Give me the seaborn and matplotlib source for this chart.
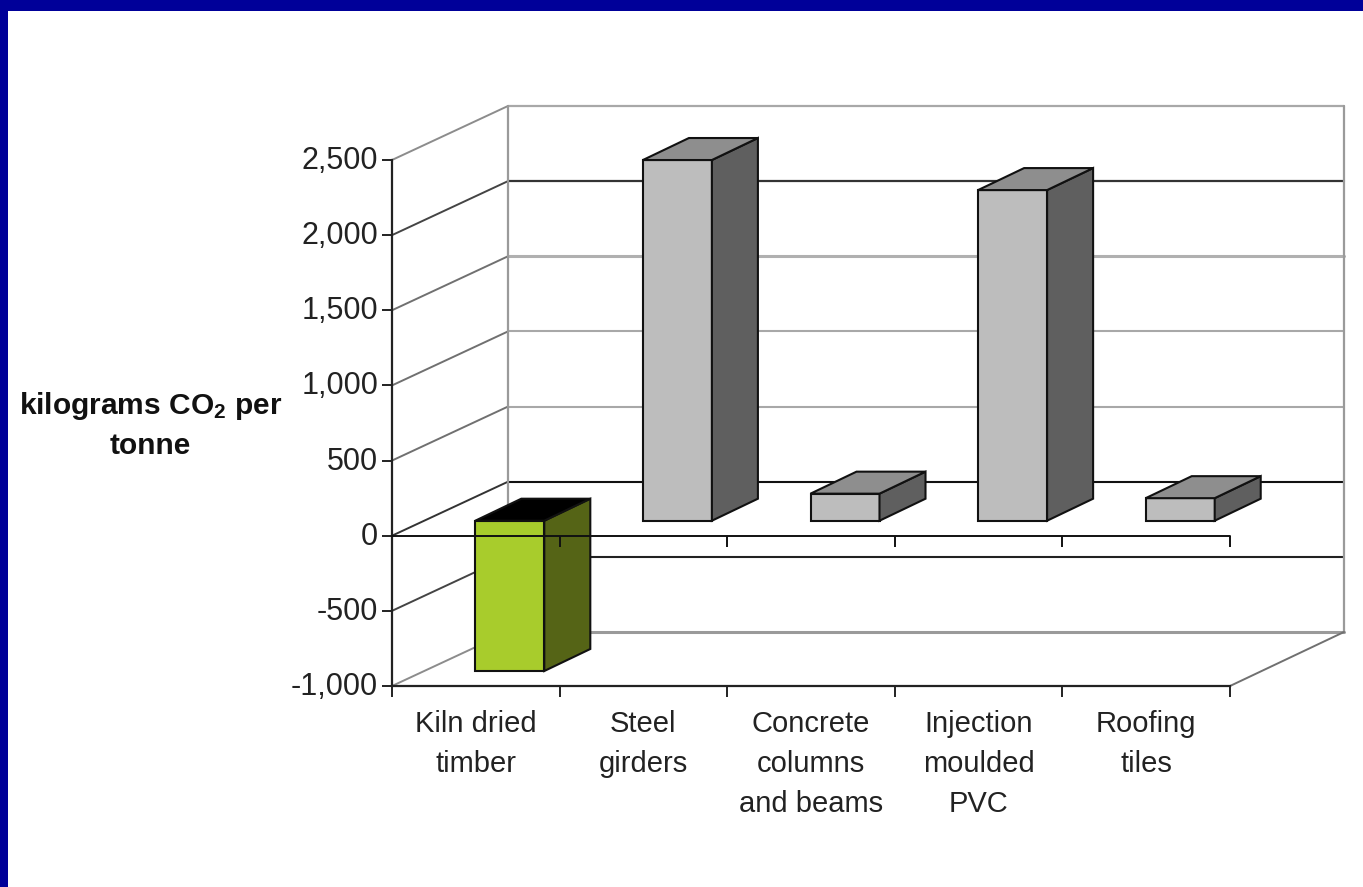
import numpy as np
import pandas as pd
import matplotlib
matplotlib.use('Agg')
import matplotlib.pyplot as plt
from matplotlib.patches import Rectangle
from matplotlib.transforms import ScaledTranslation
import seaborn as sns

# data
categories = ['Kiln dried\ntimber', 'Steel\ngirders', 'Concrete\ncolumns\nand beams',
              'Injection\nmoulded\nPVC', 'Roofing\ntiles']
co2_per_tonne = [-1000, 2400, 180, 2200, 150]
y_ticks = [-1000, -500, 0, 500, 1000, 1500, 2000, 2500]
y_tick_labels = ['-1,000', '-500', '0', '500', '1,000', '1,500', '2,000', '2,500']

# colours: front, side, top of each bar
front_colors = ['#A8CC2C', '#BDBDBD', '#BDBDBD', '#BDBDBD', '#BDBDBD']
side_colors = ['#556416', '#5F5F5F', '#5F5F5F', '#5F5F5F', '#5F5F5F']
top_colors = ['#000000', '#8E8E8E', '#8E8E8E', '#8E8E8E', '#8E8E8E']
# back wall line colours, same order as y_ticks
grid_colors = ['#9A9A9A', '#222222', '#111111', '#A8A8A8', '#A8A8A8', '#B0B0B0', '#333333', '#A8A8A8']
grid_widths = [2.2, 1.5, 1.5, 1.5, 1.5, 2.2, 1.6, 1.6]
diag_colors = ['#8C8C8C', '#444444', '#333333', '#707070', '#707070', '#707070', '#444444', '#8C8C8C']

W, H = 1363, 887
AX_LEFT, AX_RIGHT, AX_TOP, AX_BOTTOM = 392, 1230, 160, 686  # pixels

sns.set_style('white')
plt.rcParams['font.family'] = ['Liberation Sans', 'DejaVu Sans']
plt.rcParams['mathtext.fontset'] = 'custom'
plt.rcParams['mathtext.bf'] = 'Liberation Sans:bold'
plt.rcParams['mathtext.rm'] = 'Liberation Sans:bold'

fig = plt.figure(figsize=((W + 0.01) / 100, (H + 0.01) / 100), dpi=100, facecolor='white')
ax = fig.add_axes([AX_LEFT / W, 1 - AX_BOTTOM / H, (AX_RIGHT - AX_LEFT) / W, (AX_BOTTOM - AX_TOP) / H])
ax.patch.set_alpha(0)

# pixel offsets turned into data units
px_x = 5 / (AX_RIGHT - AX_LEFT)
px_y = 3500 / (AX_BOTTOM - AX_TOP)
WALL_LEFT_DX, WALL_RIGHT_DX, WALL_DY = 116 * px_x, 114 * px_x, 54 * px_y
BAR_DX, BAR_DY = 34 * px_x, 15 * px_y
DEPTH_DX, DEPTH_DY = 46 * px_x, 22 * px_y

# blue slide frame on top and left
fig.patches.append(Rectangle((0, 1 - 11 / H), 1, 11 / H, transform=fig.transFigure, fc='#000099', ec='none'))
fig.patches.append(Rectangle((0, 0), 8 / W, 1, transform=fig.transFigure, fc='#000099', ec='none'))

# walls and floor behind the bars
x0, x1 = -0.5, 4.5
back_left, back_right = x0 + WALL_LEFT_DX, x1 + WALL_RIGHT_DX
for v, c, lw, dc in zip(y_ticks, grid_colors, grid_widths, diag_colors):
    ax.plot([back_left, back_right], [v + WALL_DY, v + WALL_DY], color=c, lw=lw, clip_on=False, zorder=1)
    ax.plot([x0, back_left], [v, v + WALL_DY], color=dc, lw=1.4, clip_on=False, zorder=1)
for x in [back_left, back_right]:
    ax.plot([x, x], [y_ticks[0] + WALL_DY, y_ticks[-1] + WALL_DY],
            color='#9A9A9A', lw=1.6, clip_on=False, zorder=1)
ax.plot([x1, back_right], [y_ticks[0], y_ticks[0] + WALL_DY], color='#707070', lw=1.4, clip_on=False, zorder=1)

# front faces
df = pd.DataFrame({'category': categories, 'co2': co2_per_tonne})
sns.barplot(data=df, x='category', y='co2', hue='category', palette=front_colors, legend=False,
            width=69 * px_x, edgecolor='#111111', linewidth=1.5, saturation=1, ax=ax, zorder=3)

# shift the bars into the depth of the chart, add side and top faces
for patch, side, top in zip(ax.patches, side_colors, top_colors):
    patch.set_x(patch.get_x() + BAR_DX)
    patch.set_y(patch.get_y() + BAR_DY)
    patch.set_clip_on(False)
    left, right = patch.get_x(), patch.get_x() + patch.get_width()
    y_a, y_b = patch.get_y(), patch.get_y() + patch.get_height()
    low, high = min(y_a, y_b), max(y_a, y_b)
    ax.fill([right, right + DEPTH_DX, right + DEPTH_DX, right],
            [low, low + DEPTH_DY, high + DEPTH_DY, high],
            fc=side, ec='#111111', lw=1.5, clip_on=False, zorder=3)
    ax.fill([left, left + DEPTH_DX, right + DEPTH_DX, right],
            [high, high + DEPTH_DY, high + DEPTH_DY, high],
            fc=top, ec='#111111', lw=1.5, clip_on=False, zorder=3)

# zero plane drawn over the bars, with its own tick marks
tick_edges = np.arange(len(categories) + 1) - 0.5
ax.plot([x0, x1], [0, 0], color='#111111', lw=1.4, clip_on=False, zorder=4)
ax.vlines(tick_edges[1:], 0, -11 * px_y, color='#111111', lw=1.4, clip_on=False, zorder=4)

ax.set_xlim(x0, x1)
ax.set_ylim(y_ticks[0], y_ticks[-1])
ax.set_xlabel('')
ax.set_ylabel('')
ax.set_yticks(y_ticks)
ax.set_yticklabels(y_tick_labels, fontsize=22, color='#222222')
ax.set_xticks(range(len(categories)))
ax.set_xticklabels(categories, fontsize=21, color='#222222', linespacing=1.56)
ax.set_xticks(tick_edges, minor=True)
ax.tick_params(axis='x', which='major', length=0, pad=17)
ax.tick_params(axis='x', which='minor', length=8, width=1.4, color='#222222', bottom=True)
ax.tick_params(axis='y', which='major', length=7.5, width=1.4, color='#222222', pad=2.5, left=True)
sns.despine(ax=ax, top=True, right=True)
for side in ['left', 'bottom']:
    ax.spines[side].set_color('#222222')
    ax.spines[side].set_linewidth(1.6)
    ax.spines[side].set_zorder(2)

# tick numbers sit a little above their tick marks
nudge = ScaledTranslation(0, 2.5 / 100, fig.dpi_scale_trans)
for label in ax.get_yticklabels():
    label.set_transform(label.get_transform() + nudge)

fig.text(150.5 / W, 1 - 425 / H, r'kilograms CO$\mathbf{_2}$ per' + '\ntonne', ha='center', va='center',
         fontsize=21.5, fontweight='bold', color='#111111', linespacing=1.45)

fig.savefig('out.png', dpi=100, facecolor='white')
